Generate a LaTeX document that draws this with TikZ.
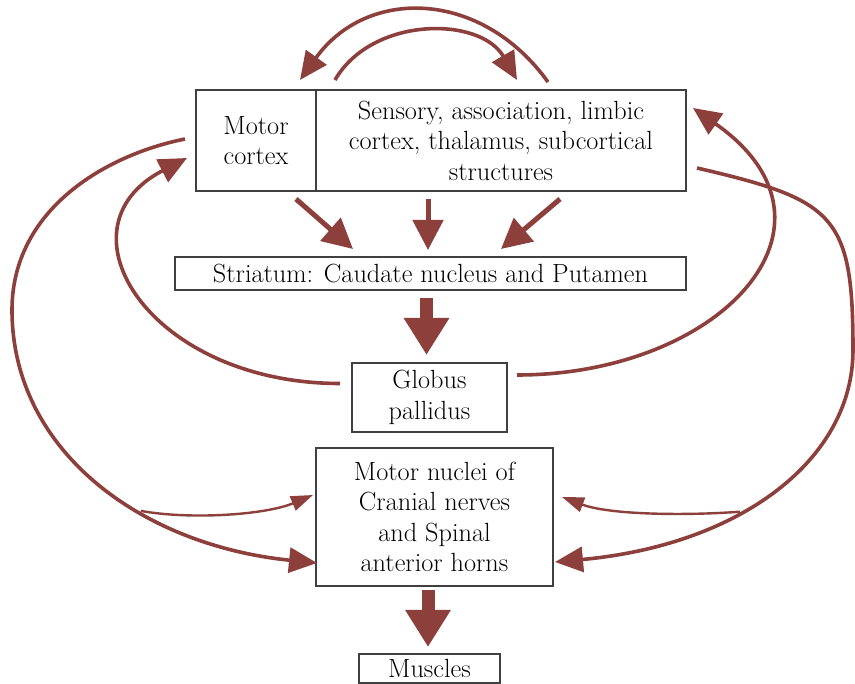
\documentclass[tikz,border=0pt]{standalone}
\usetikzlibrary{arrows.meta,positioning}
\definecolor{arcred}{RGB}{141,63,60}
\definecolor{boxgray}{RGB}{64,64,64}

\begin{document}
\begin{tikzpicture}[x=1pt, y=-1pt,
  font=\fontsize{26.3}{30.5}\selectfont,
  box/.style={draw=boxgray, line width=1.8pt, align=center, inner sep=0pt, outer sep=0pt},
  arr/.style={-{Triangle[length=28pt, width=25pt]}, line width=3.6pt, color=arcred},
  branch/.style={-{Triangle[length=22pt, width=15pt]}, line width=2.4pt, color=arcred},
  feed/.style={-{Triangle[length=30pt, width=30pt]}, line width=5pt, color=arcred},
  bigarr/.style={-{Triangle[length=37pt, width=43pt]}, line width=13pt, color=arcred}]
\useasboundingbox (0,0) rectangle (855,684);
\fill[white] (0,0) rectangle (855,684);
\node[box, minimum width=120pt, minimum height=101pt] (motor) at (256,140.5) {Motor\\cortex};
\node[box, minimum width=370pt, minimum height=101pt, right=0pt of motor] (sens) {Sensory, association, limbic\\cortex, thalamus, subcortical\\structures};
\node[box, minimum width=511pt, minimum height=33pt] (striatum) at (430.5,273.5) {Striatum: Caudate nucleus and Putamen};
\node[box, minimum width=155pt, minimum height=69pt] (globus) at (429.5,397.5) {Globus\\pallidus};
\node[box, minimum width=237pt, minimum height=138pt] (nuclei) at (434.5,517) {Motor nuclei of\\Cranial nerves\\and Spinal\\anterior horns};
\node[box, minimum width=141pt, minimum height=29pt] (muscles) at (429.5,668.5) {Muscles};

% loop over the cortex box
\draw[arr] ([shift={(232,-8)}]sens.north west) .. controls +(-67,-93) and +(67,-93) .. ([shift={(-16,-10)}]motor.north east);
\draw[arr] ([shift={(19,-10)}]motor.north east) .. controls +(37,-64) and +(-37,-64) .. ([shift={(201,-10)}]sens.north west);

% cortex to striatum
\draw[feed] ([shift={(-20,8)}]motor.south east) -- ([shift={(-77.5,-8)}]striatum.north);
\draw[feed] ([shift={(112,8)}]sens.south west) -- ([shift={(-2.5,-7)}]striatum.north);
\draw[feed] ([shift={(244,8)}]sens.south west) -- ([shift={(70.5,-8)}]striatum.north);

\draw[bigarr] ([shift={(-4,8)}]striatum.south) -- ([shift={(-3,-8)}]globus.north);
\draw[bigarr] ([shift={(-6.5,4)}]nuclei.south) -- ([shift={(-1.5,-7)}]muscles.north);

% pallidum back to cortex
\draw[arr] ([shift={(-12,-14)}]globus.west) .. controls +(-190,0) and +(-135,70) .. ([shift={(-9,17.5)}]motor.west);
\draw[arr] ([shift={(10,-22.5)}]globus.east) .. controls +(203,0) and +(167,117) .. ([shift={(7,-32.5)}]sens.east);

% cortex down to the motor nuclei
\draw[arr] ([shift={(-11,-1.5)}]motor.west) .. controls +(-80,16) and +(0,-100) .. ++(-173,171)
  .. controls +(0,140) and +(-177,-18) .. ([shift={(1,46)}]nuclei.west) coordinate[pos=0.62] (lsplit);
\draw[arr] ([shift={(11,27.5)}]sens.east) .. controls +(138,32) and +(0,-135) .. ++(156,182)
  .. controls +(0,110) and +(185,-17) .. ([shift={(2,45)}]nuclei.east) coordinate[pos=0.6] (rsplit);
\draw[branch] (lsplit) .. controls +(49,9) and +(-48,20) .. ([shift={(-3,-22)}]nuclei.west);
\draw[branch] (rsplit) .. controls +(-53,4) and +(48,18) .. ([shift={(9,-20)}]nuclei.east);
\end{tikzpicture}
\end{document}
